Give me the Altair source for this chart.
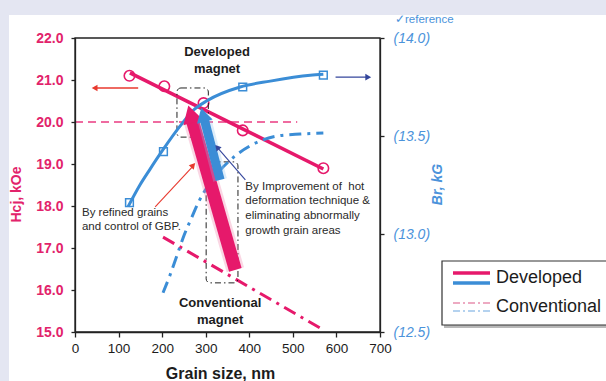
import altair as alt
import pandas as pd

FONT = "Liberation Sans"
PINK = "#e6196b"
PINK_TXT = "#e2236b"
PINK_LIGHT = "#e88fae"
BLUE = "#3b8dd6"
BLUE_TXT = "#4b93db"
BLUE_LIGHT = "#9cc4ea"
RED = "#e8392e"
NAVY = "#34469c"
INK = "#1c1c1c"
PANEL_BG = "#e4e6f2"

# ---- measured values ------------------------------------------------------
# Developed magnet: coercivity Hcj (kOe) vs grain size (nm)
dev_grain = [125, 205, 295, 385, 570]
dev_hcj = [21.10, 20.85, 20.45, 19.80, 18.90]
# straight trend through the developed Hcj points
dev_fit_grain = [126, 570]
dev_fit_hcj = [21.17, 18.88]

# Developed magnet: remanence Br (kG)
dev_br_grain = [125, 203, 385, 570]
dev_br = [13.16, 13.42, 13.75, 13.81]
dev_br_fit_grain = [122, 149, 172, 202, 241, 271, 303, 379, 448, 540, 570]
dev_br_fit = [13.14, 13.25, 13.33, 13.43, 13.55, 13.63, 13.68, 13.75, 13.78, 13.81, 13.815]

# Conventional magnet trends
conv_hcj_grain = [202, 570]
conv_hcj = [17.26, 15.05]
conv_br_grain = [202, 218, 234, 248, 269, 283, 310, 363, 402, 464, 517, 570]
conv_br = [12.70, 12.79, 12.89, 12.98, 13.09, 13.16, 13.26, 13.39, 13.45, 13.50, 13.51, 13.515]

# 20 kOe level
target_grain = [0, 510]
target_hcj = [20.0, 20.0]

# axes
x_ticks = [0, 100, 200, 300, 400, 500, 600, 700]
hcj_ticks = [15, 16, 17, 18, 19, 20, 21, 22]
br_ticks = [12.5, 13.0, 13.5, 14.0]

# ---- annotation geometry (grain nm, Hcj kOe) ------------------------------
pink_arrow_grain = [368, 269]
pink_arrow_hcj = [16.48, 20.05]
pink_head = (265.7, 20.19)
blue_arrow_grain = [333, 296.6]
blue_arrow_hcj = [18.62, 20.07]
blue_head = (293.8, 20.17)

box_g1 = [234, 301]
box_g2 = [306, 374]
box_h1 = [20.81, 19.05]
box_h2 = [19.64, 16.17]

bold_text = ["Developed", "magnet", "Conventional", "magnet"]
bold_g = [326, 326, 333, 333]
bold_h = [21.67, 21.26, 15.69, 15.29]

note_text = ["By refined grains", "and control of GBP.",
             "By Improvement of\u00a0 hot", "deformation technique &",
             "eliminating abnormally", "growth grain areas"]
note_g = [16, 16, 391, 391, 391, 391]
note_h = [17.83, 17.50, 18.45, 18.12, 17.76, 17.40]

# ---- scales & axes --------------------------------------------------------
x_scale = alt.Scale(domain=[0, 700], nice=False, zero=False)
hcj_scale = alt.Scale(domain=[15, 22], nice=False, zero=False)
br_scale = alt.Scale(domain=[12.5, 14.0], nice=False, zero=False)

x_axis = alt.Axis(
    values=x_ticks, grid=False, title="Grain size, nm", zindex=1, labelFlush=False,
    labelFont=FONT, labelFontSize=13.5, labelColor=INK, labelPadding=4,
    tickSize=5, tickColor="#222", tickWidth=1.3, domainColor="#222", domainWidth=1.3,
    titleFont=FONT, titleFontSize=16, titleFontWeight="bold", titleColor=INK,
    titleX=145, titleY=41, titleBaseline="middle", titleAlign="center",
)
hcj_axis = alt.Axis(
    values=hcj_ticks, format=".1f", orient="left", grid=False, title="Hcj, kOe", zindex=1,
    labelFlush=False,
    labelFont=FONT, labelFontSize=14, labelFontWeight="bold", labelColor=PINK_TXT,
    labelPadding=8, tickSize=4, tickColor="#222", tickWidth=1.3,
    domainColor="#222", domainWidth=1.3,
    titleFont=FONT, titleFontSize=14, titleFontWeight="bold", titleColor=PINK_TXT,
    titleAngle=270, titleX=-59, titleY=156, titleBaseline="middle", titleAlign="center",
)
br_axis = alt.Axis(
    values=br_ticks, orient="right", grid=False, title="Br, kG", zindex=1, labelFlush=False,
    labelExpr="'(' + format(datum.value, '.1f') + ')'",
    labelFont=FONT, labelFontSize=14, labelFontStyle="italic", labelColor=BLUE_TXT,
    labelPadding=9, tickSize=4, tickColor="#222", tickWidth=1.3,
    domainColor="#222", domainWidth=1.3,
    titleFont=FONT, titleFontSize=14, titleFontWeight="bold", titleFontStyle="italic",
    titleColor=BLUE_TXT, titleAngle=270, titleX=57, titleY=146,
    titleBaseline="middle", titleAlign="center",
)

X = alt.X("g:Q", scale=x_scale, axis=x_axis)
X2 = alt.X2("g2:Q")
YL = alt.Y("h:Q", scale=hcj_scale, axis=hcj_axis)
YL_plain = alt.Y("h:Q", scale=hcj_scale, axis=None)
Y2 = alt.Y2("h2:Q")
YR = alt.Y("b:Q", scale=br_scale, axis=br_axis)

one = pd.DataFrame({"k": [0]})

# ---- lower layer: panel, frame, Hcj series, guide boxes -------------------
panel = alt.Chart(one).mark_rect(color="white").encode(
    x=alt.value(-66), x2=alt.value(545), y=alt.value(-23), y2=alt.value(350))
frame = alt.Chart(one).mark_rect(fillOpacity=0, stroke="#222", strokeWidth=1.3).encode(
    x=alt.value(0), x2=alt.value(305), y=alt.value(0), y2=alt.value(294))

target = alt.Chart(pd.DataFrame({"g": target_grain, "h": target_hcj})).mark_line(
    color=PINK, strokeWidth=1.4, strokeDash=[8, 5], opacity=0.85).encode(x=X, y=YL)

conv_h = alt.Chart(pd.DataFrame({"g": conv_hcj_grain, "h": conv_hcj})).mark_line(
    color=PINK, strokeWidth=3, strokeDash=[13, 6, 3, 6]).encode(x=X, y=YL)

dev_fit = alt.Chart(pd.DataFrame({"g": dev_fit_grain, "h": dev_fit_hcj})).mark_line(
    color=PINK, strokeWidth=3.5).encode(x=X, y=YL)

dev_pts = alt.Chart(pd.DataFrame({"g": dev_grain, "h": dev_hcj})).mark_point(
    shape="circle", filled=False, size=110, strokeWidth=1.6, color=PINK, opacity=1).encode(x=X, y=YL)

boxes = alt.Chart(pd.DataFrame({"g": box_g1, "g2": box_g2, "h": box_h1, "h2": box_h2})).mark_rect(
    fillOpacity=0, stroke="#222", strokeWidth=1, strokeDash=[6, 3, 1.5, 3], cornerRadius=4
).encode(x=X, x2=X2, y=YL, y2=Y2)

red_left = alt.Chart(pd.DataFrame({"g": [145], "g2": [46], "h": [20.81]})).mark_rule(
    color=RED, strokeWidth=1.3).encode(x=X, x2=X2, y=YL)
red_left_head = alt.Chart(pd.DataFrame({"g": [45], "h": [20.81]})).mark_point(
    shape="triangle-left", filled=True, size=45, color=RED, opacity=1).encode(x=X, y=YL)

left_base = alt.layer(panel, frame, target, conv_h, dev_fit, dev_pts, boxes, red_left, red_left_head)

# ---- Br series on the right-hand scale ------------------------------------
dev_br_line = alt.Chart(pd.DataFrame({"g": dev_br_fit_grain, "b": dev_br_fit})).mark_line(
    color=BLUE, strokeWidth=3, interpolate="monotone").encode(x=X, y=YR)
dev_br_pts = alt.Chart(pd.DataFrame({"g": dev_br_grain, "b": dev_br})).mark_point(
    shape="square", filled=False, size=60, strokeWidth=1.5, color=BLUE, opacity=1).encode(x=X, y=YR)
conv_br_line = alt.Chart(pd.DataFrame({"g": conv_br_grain, "b": conv_br})).mark_line(
    color=BLUE, strokeWidth=3, strokeDash=[12, 6, 3, 6], interpolate="monotone").encode(x=X, y=YR)
navy_right = alt.Chart(pd.DataFrame({"g": [598], "g2": [672], "b": [13.80]})).mark_rule(
    color=NAVY, strokeWidth=1.3).encode(x=X, x2=X2, y=YR)
navy_right_head = alt.Chart(pd.DataFrame({"g": [673], "b": [13.80]})).mark_point(
    shape="triangle-right", filled=True, size=45, color=NAVY, opacity=1).encode(x=X, y=YR)

right = alt.layer(dev_br_line, dev_br_pts, conv_br_line, navy_right, navy_right_head)

# ---- upper layer: improvement arrows, notes, legend -----------------------
def thick_arrow(gs, hs, head, color, glow, width, head_size, angle):
    df = pd.DataFrame({"g": gs, "h": hs, "o": [0, 1]})
    halo = alt.Chart(df).mark_line(color=glow, strokeWidth=width + 5, opacity=0.3,
                                   strokeCap="butt").encode(x=X, y=YL_plain, order="o:Q")
    shaft = alt.Chart(df).mark_line(color=color, strokeWidth=width,
                                    strokeCap="butt").encode(x=X, y=YL_plain, order="o:Q")
    tip = alt.Chart(pd.DataFrame({"g": [head[0]], "h": [head[1]]})).mark_point(
        shape="triangle-up", filled=True, size=head_size, angle=angle, color=color,
        opacity=1).encode(x=X, y=YL_plain)
    return [halo, shaft, tip]

pink_arrow = thick_arrow(pink_arrow_grain, pink_arrow_hcj, pink_head, PINK, "#f07aa5", 13, 420, 344)
blue_arrow = thick_arrow(blue_arrow_grain, blue_arrow_hcj, blue_head, BLUE, "#8ec5f0", 9, 260, 345)

red_note = alt.Chart(pd.DataFrame({"g": [184], "g2": [272], "h": [17.98], "h2": [18.96]})).mark_rule(
    color=RED, strokeWidth=1.1).encode(x=X, x2=X2, y=YL_plain, y2=Y2)
red_note_head = alt.Chart(pd.DataFrame({"g": [271.3], "h": [18.97]})).mark_point(
    shape="triangle-up", filled=True, size=45, angle=42, color=RED, opacity=1).encode(x=X, y=YL_plain)
navy_note = alt.Chart(pd.DataFrame({"g": [391], "g2": [328], "h": [18.62], "h2": [19.38]})).mark_rule(
    color=NAVY, strokeWidth=1.1).encode(x=X, x2=X2, y=YL_plain, y2=Y2)
navy_note_head = alt.Chart(pd.DataFrame({"g": [326.4], "h": [19.40]})).mark_point(
    shape="triangle-up", filled=True, size=45, angle=319, color=NAVY, opacity=1).encode(x=X, y=YL_plain)

bold_lbl = alt.Chart(pd.DataFrame({"g": bold_g, "h": bold_h, "t": bold_text})).mark_text(
    font=FONT, fontSize=13, fontWeight="bold", color=INK, align="center", baseline="middle"
).encode(x=X, y=YL_plain, text="t:N")
note_lbl = alt.Chart(pd.DataFrame({"g": note_g, "h": note_h, "t": note_text})).mark_text(
    font=FONT, fontSize=11.5, color="#2a2a2a", align="left", baseline="middle"
).encode(x=X, y=YL_plain, text="t:N")

ref_mark = alt.Chart(one).mark_text(
    text="\u2713reference", font=FONT, fontSize=11.5, color=BLUE_TXT, align="left", baseline="middle"
).encode(x=alt.value(320), y=alt.value(-18))

# legend box
leg_shadow = alt.Chart(one).mark_rect(color="#9a9a9a", opacity=0.7).encode(
    x=alt.value(369), x2=alt.value(548), y=alt.value(225), y2=alt.value(290))
leg_box = alt.Chart(one).mark_rect(fill="white", stroke="#333", strokeWidth=1.2).encode(
    x=alt.value(367), x2=alt.value(546), y=alt.value(223), y2=alt.value(287))
leg_items = [
    alt.Chart(one).mark_rule(color=PINK, strokeWidth=3.5).encode(
        x=alt.value(378), x2=alt.value(415), y=alt.value(235)),
    alt.Chart(one).mark_rule(color=BLUE, strokeWidth=3.5).encode(
        x=alt.value(378), x2=alt.value(415), y=alt.value(245)),
    alt.Chart(one).mark_rule(color=PINK_LIGHT, strokeWidth=1.5, strokeDash=[7, 3, 2, 3]).encode(
        x=alt.value(378), x2=alt.value(415), y=alt.value(265)),
    alt.Chart(one).mark_rule(color=BLUE_LIGHT, strokeWidth=1.5, strokeDash=[7, 3, 2, 3]).encode(
        x=alt.value(378), x2=alt.value(415), y=alt.value(273)),
    alt.Chart(one).mark_text(text="Developed", font=FONT, fontSize=18, color=INK,
                             align="left", baseline="middle").encode(
        x=alt.value(421), y=alt.value(240)),
    alt.Chart(one).mark_text(text="Conventional", font=FONT, fontSize=18, color=INK,
                             align="left", baseline="middle").encode(
        x=alt.value(421), y=alt.value(269)),
]

left_top = alt.layer(
    *pink_arrow, *blue_arrow, red_note, red_note_head, navy_note, navy_note_head,
    bold_lbl, note_lbl, ref_mark, leg_shadow, leg_box, *leg_items,
)

chart = (
    alt.layer(left_base, right, left_top)
    .resolve_scale(y="independent")
    .properties(
        width=305, height=294,
        padding={"left": 75, "top": 38, "right": 226, "bottom": 49},
        autosize=alt.AutoSizeParams(type="none"),
    )
    .configure(background=PANEL_BG)
    .configure_view(stroke=None)
)

chart.save("out.html", embed_options={"renderer": "svg", "actions": False})
